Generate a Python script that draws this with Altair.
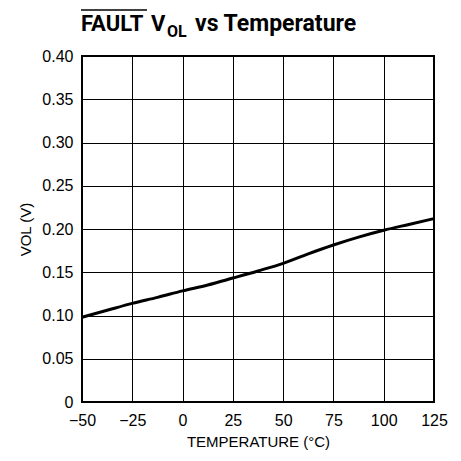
import altair as alt
import pandas as pd

# Data
temperature = [-50, -37.5, -25, -12.5, 0, 12.5, 25, 37.5, 50, 62.5, 75, 87.5, 100, 112.5, 125]
vol = [0.098, 0.106, 0.114, 0.121, 0.1285, 0.1353, 0.1433, 0.1515, 0.1603, 0.1713, 0.1815, 0.1906, 0.1985, 0.2053, 0.212]
x_ticks = [-50, -25, 0, 25, 50, 75, 100, 125]
y_ticks = [0, 0.05, 0.10, 0.15, 0.20, 0.25, 0.30, 0.35, 0.40]

df = pd.DataFrame({"temp": temperature, "vol": vol})

LABEL_FONT = "Liberation Sans, Arial, sans-serif"
TITLE_FONT = "Roboto, Liberation Sans, sans-serif"

line = alt.Chart(df).mark_line(color="black", strokeWidth=3, interpolate="monotone").encode(
    x=alt.X(
        "temp:Q",
        scale=alt.Scale(domain=[-50, 125], nice=False, zero=False),
        axis=alt.Axis(
            values=x_ticks,
            title="TEMPERATURE (°C)",
            labelPadding=10,
            titlePadding=6,
            labelFlush=False,
            labelOverlap=False,
        ),
    ),
    y=alt.Y(
        "vol:Q",
        scale=alt.Scale(domain=[0, 0.4], nice=False, zero=False),
        axis=alt.Axis(
            values=y_ticks,
            title="VOL (V)",
            labelExpr="datum.value == 0 ? '0' : format(datum.value, '.2f')",
            labelPadding=9,
            titlePadding=8,
            labelOverlap=False,
        ),
    ),
)

def piece(text, x, y, size, weight="bold"):
    return alt.Chart(pd.DataFrame({"t": [text]})).mark_text(
        font=TITLE_FONT, fontSize=size, fontWeight=weight, align="left",
        baseline="alphabetic", color="black",
    ).encode(text="t:N", x=alt.value(x), y=alt.value(y))

title_fault = piece("FAULT", -1, -25, 22)
title_v = piece("V", 69, -25, 22)
title_ol = piece("OL", 85, -19, 16)
title_rest = piece("vs Temperature", 113, -25, 23)
overline = alt.Chart(pd.DataFrame({"t": [0]})).mark_rule(color="black", strokeWidth=1.5).encode(
    x=alt.value(-1), x2=alt.value(65), y=alt.value(-46)
)

chart = alt.layer(line, title_fault, title_v, title_ol, title_rest, overline).properties(
    width=352,
    height=346,
    autosize=alt.AutoSizeParams(type="none"),
    padding={"left": 74, "top": 48, "right": 19, "bottom": 51},
).configure_view(
    stroke="black", strokeWidth=2
).configure_axis(
    grid=True,
    gridColor="black",
    gridOpacity=1,
    gridWidth=1,
    domain=False,
    ticks=False,
    tickSize=0,
    labelFont=LABEL_FONT,
    labelFontSize=16,
    labelColor="black",
    titleFont=LABEL_FONT,
    titleFontSize=15,
    titleFontWeight="normal",
    titleColor="black",
)

chart.save("out.html", embed_options={"renderer": "svg", "actions": False})
